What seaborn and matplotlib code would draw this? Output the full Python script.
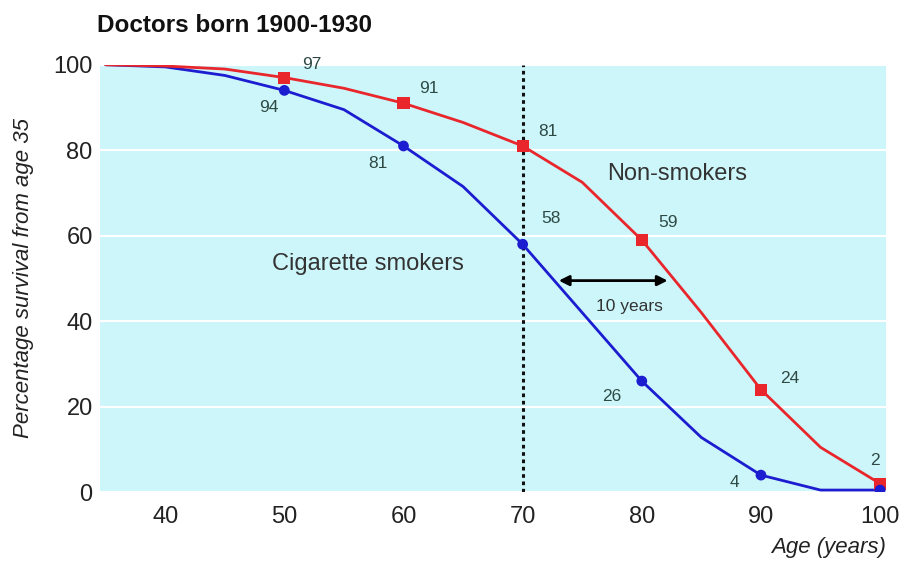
import matplotlib
matplotlib.use("Agg")
import matplotlib.pyplot as plt
import seaborn as sns
import pandas as pd

# survival curves
ages = [35, 40, 45, 50, 55, 60, 65, 70, 75, 80, 85, 90, 95, 100]
non_smokers = [100, 99.7, 99, 97, 94.5, 91, 86.5, 81, 72.5, 59, 42, 24, 10.5, 2]
smokers = [100, 99.5, 97.5, 94, 89.5, 81, 71.5, 58, 42, 26, 12.8, 4, 0.5, 0.5]

marked_ages = [50, 60, 70, 80, 90, 100]
non_labels = ["97", "91", "81", "59", "24", "2"]
smk_labels = ["94", "81", "58", "26", "4", ""]

sns.set_theme(style="white")
plt.rcParams["font.family"] = ["Liberation Sans", "DejaVu Sans"]

df = pd.DataFrame({"age": ages, "Non-smokers": non_smokers, "Cigarette smokers": smokers})
marks = df[df["age"].isin(marked_ages)]

fig = plt.figure(figsize=(9.06, 5.73), dpi=100)
ax = fig.add_axes([0.110, 0.141, 0.868, 0.746])
ax.set_facecolor("#cdf6fa")

sns.lineplot(data=df, x="age", y="Cigarette smokers", color="#1c1cd0", lw=2, ax=ax)
sns.lineplot(data=df, x="age", y="Non-smokers", color="#e8262b", lw=2, ax=ax)
sns.scatterplot(data=marks, x="age", y="Non-smokers", marker="s", s=75, color="#e8262b",
                edgecolor="none", zorder=5, ax=ax)
sns.scatterplot(data=marks, x="age", y="Cigarette smokers", marker="o", s=60, color="#1c1cd0",
                edgecolor="none", zorder=5, ax=ax)

ax.axvline(70, color="#111111", ls=(0, (1.2, 1.2)), lw=2.2, zorder=4)

# value labels
lab_col = "#2e4a45"
non_off = [(1.5, 3), (1.3, 3.5), (1.3, 3.5), (1.4, 4), (1.6, 2.5), (-0.8, 5.5)]
smk_off = [(-0.5, -4), (-1.3, -4), (1.6, 6), (-1.7, -3.7), (-1.8, -1.7), (0, 0)]
for a, v, t, (dx, dy) in zip(marked_ages, non_smokers[3::2], non_labels, non_off):
    ax.text(a + dx, v + dy, t, fontsize=12.5, color=lab_col, ha="left", va="center")
for a, v, t, (dx, dy) in zip(marked_ages, smokers[3::2], smk_labels, smk_off):
    ax.text(a + dx, v + dy, t, fontsize=12.5, color=lab_col, ha="left" if dx > 0 else "right",
            va="center")

ax.text(83, 74.5, "Non-smokers", fontsize=17, color="#333333", ha="center", va="center")
ax.text(57, 53.5, "Cigarette smokers", fontsize=17, color="#333333", ha="center", va="center")
ax.annotate("", xy=(72.8, 49.5), xytext=(82.4, 49.5),
            arrowprops=dict(arrowstyle="<|-|>", color="black", lw=2, mutation_scale=15))
ax.text(79, 43.5, "10 years", fontsize=12.5, color="#333333", ha="center", va="center")

ax.set_xlim(34.5, 100.5)
ax.set_ylim(0, 100)
ax.set_xticks([40, 50, 60, 70, 80, 90, 100])
ax.set_yticks([0, 20, 40, 60, 80, 100])
ax.tick_params(labelsize=17, colors="#222222", length=0)
ax.tick_params(axis="y", pad=5)
ax.tick_params(axis="x", pad=10)
ax.yaxis.grid(True, color="white", lw=1.5)
ax.set_axisbelow(True)
for s in ax.spines.values():
    s.set_visible(False)

ax.set_xlabel("")
ax.set_ylabel("Percentage survival from age 35", fontsize=16, style="italic", color="#222222",
              labelpad=14)
fig.text(0.978, 0.035, "Age (years)", fontsize=16, style="italic", color="#222222", ha="right")
fig.text(0.107, 0.945, "Doctors born 1900-1930", fontsize=17.5, weight="bold", color="#111111")

fig.savefig("out.png", dpi=100)
